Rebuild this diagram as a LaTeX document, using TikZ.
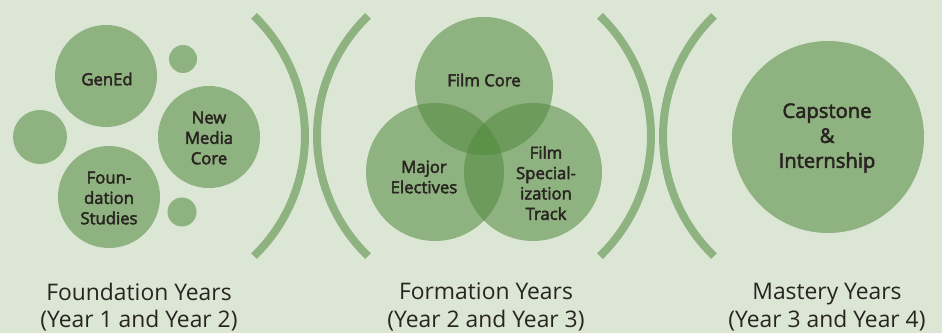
\documentclass[tikz,border=0pt]{standalone}
\usepackage{fontspec}
\setmainfont{Open Sans}
\newfontfamily\semibf[FakeBold=2.6]{Open Sans}
\usepackage{xcolor}

\definecolor{bgcol}{RGB}{220,230,213}
\definecolor{bubblecol}{RGB}{143,178,129}
\definecolor{venncol}{RGB}{80,137,61}
\definecolor{inkcol}{RGB}{40,36,32}

\tikzset{
  bubble/.style={fill=bubblecol},
  venn/.style={fill=venncol, fill opacity=0.55},
  paren/.style={draw=bubblecol, line width=0.16cm},
  lbl/.style={text=inkcol, align=center, font=\fontsize{9.5}{11.6}\selectfont\semibf},
  biglbl/.style={text=inkcol, align=center, font=\fontsize{11.5}{14.2}\selectfont\semibf},
  yearlbl/.style={text=inkcol, align=center, font=\fontsize{13}{15.7}\selectfont}
}

\begin{document}
\begin{tikzpicture}[x=0.02cm, y=0.02cm]
  % Background and page size
  \fill[bgcol] (0,0) rectangle (942,-333);
  \useasboundingbox (0,0) rectangle (942,-333);

  % Centres of the three stages
  \coordinate (found) at (138,-136);
  \coordinate (form) at (484,-136);
  \coordinate (mast) at (830,-136);

  % Brackets between the stages
  \draw[paren] (found) ++(46:3.34cm) arc[start angle=46, end angle=-46, radius=3.34cm];
  \draw[paren] (form) ++(134:3.34cm) arc[start angle=134, end angle=226, radius=3.34cm];
  \draw[paren] (form) ++(46:3.34cm) arc[start angle=46, end angle=-46, radius=3.34cm];
  \draw[paren] (mast) ++(134:3.34cm) arc[start angle=134, end angle=226, radius=3.34cm];

  % Foundation bubbles
  \fill[bubble] (106,-76) circle (51);
  \fill[bubble] (209,-137) circle (51);
  \fill[bubble] (109,-197) circle (51);
  \fill[bubble] (183,-59) circle (14);
  \fill[bubble] (40,-137) circle (27);
  \fill[bubble] (182,-212) circle (14.5);

  \node[lbl] (gened) at (107,-79) {GenEd};
  \node[lbl] (newmedia) at (209,-138) {New\\Media\\Core};
  \node[lbl] (foundstud) at (109,-198) {Foun-\\dation\\Studies};

  % Formation Venn circles
  \fill[venn] (484,-86) circle (69);
  \fill[venn] (435,-172) circle (69);
  \fill[venn] (533,-172) circle (69);

  \node[lbl] (filmcore) at (484,-80) {Film Core};
  \node[lbl] (electives) at (424,-177) {Major\\Electives};
  \node[lbl] (filmspec) at (546,-183) {Film\\Special-\\ization\\Track};

  % Mastery bubble
  \fill[bubble] (828,-137) circle (96);
  \node[biglbl] (capstone) at (827,-138) {Capstone\\\&\\Internship};

  % Stage names
  \node[yearlbl] (foundyrs) at (139,-307) {Foundation Years\\(Year 1 and Year 2)};
  \node[yearlbl] (formyrs) at (486,-307) {Formation Years\\(Year 2 and Year 3)};
  \node[yearlbl] (mastyrs) at (827,-307) {Mastery Years\\(Year 3 and Year 4)};
\end{tikzpicture}
\end{document}
